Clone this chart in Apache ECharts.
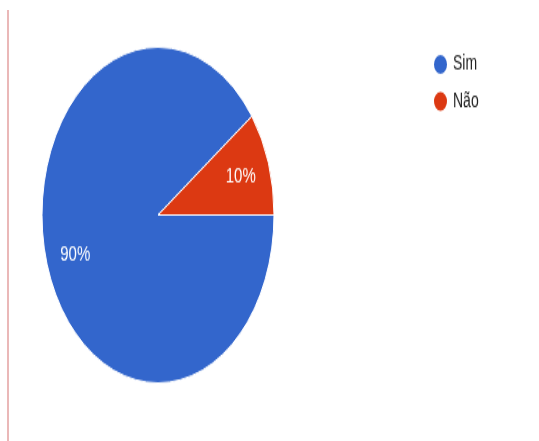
<!DOCTYPE html>
<html>
<head>
<meta charset="utf-8">
<script src="https://cdn.jsdelivr.net/npm/echarts@6/dist/echarts.min.js"></script>
<style>
  html, body { margin: 0; padding: 0; background: #fff; overflow: hidden; }
  #frame {
    position: absolute; left: 0; top: 0; width: 539px; height: 441px;
  }
  #rule {
    position: absolute; left: 7px; top: 10px; width: 2px; height: 431px;
    background: #eab8b8;
  }
  /* the chart is drawn on a shorter canvas and stretched vertically */
  #chart {
    position: absolute; left: 0; top: 0; width: 539px; height: 304.5px;
    transform: scaleY(1.448); transform-origin: 0 0;
  }
</style>
</head>
<body>
<div id="frame">
  <div id="rule"></div>
  <div id="chart"></div>
</div>
<script>
const categories = ['Sim', 'Não'];
const values = [90, 10];
const labels = ['90%', '10%'];
const colors = ['#3366cc', '#dc3912'];

const chart = echarts.init(document.getElementById('chart'), null, { renderer: 'canvas' });

const pieData = categories.map((name, i) => ({
  name: name,
  value: values[i],
  itemStyle: { color: colors[i] }
}));

const labelData = categories.map((name, i) => ({
  name: name,
  value: values[i],
  label: { formatter: labels[i] }
}));

chart.setOption({
  animation: false,
  color: colors,
  legend: {
    orient: 'vertical',
    left: 427,
    top: 31,
    icon: 'circle',
    itemWidth: 15,
    itemHeight: 15,
    itemGap: 8.5,
    textStyle: { fontFamily: 'Liberation Sans, Arial, sans-serif', fontSize: 14, color: '#222' },
    data: categories
  },
  series: [
    {
      type: 'pie',
      center: [158, 148.5],
      radius: [0, 116],
      startAngle: 0,
      clockwise: true,
      silent: true,
      label: { show: false },
      labelLine: { show: false },
      itemStyle: { borderColor: '#ffffff', borderWidth: 1 },
      data: pieData
    },
    {
      type: 'pie',
      center: [158, 148.5],
      radius: [0, 168],
      startAngle: 0,
      clockwise: true,
      silent: true,
      legendHoverLink: false,
      itemStyle: { color: 'rgba(0,0,0,0)' },
      label: {
        show: true,
        position: 'inside',
        color: '#ffffff',
        fontFamily: 'Liberation Sans, Arial, sans-serif',
        fontSize: 15
      },
      labelLine: { show: false },
      data: labelData
    }
  ]
});
</script>
</body>
</html>
